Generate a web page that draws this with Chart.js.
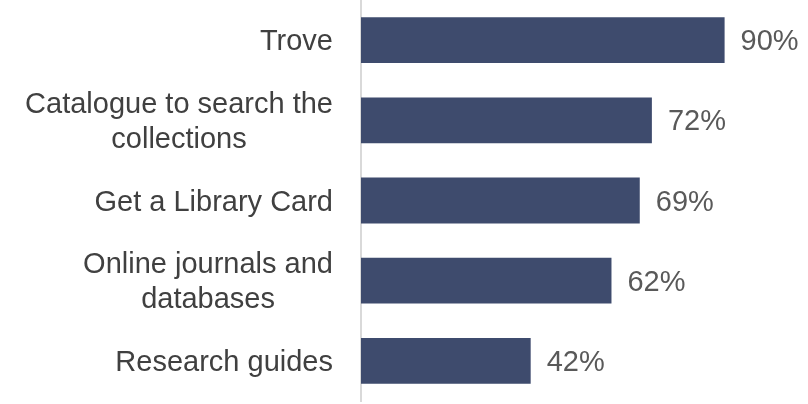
<!DOCTYPE html>
<html>
<head>
<meta charset="utf-8">
<script src="https://cdn.jsdelivr.net/npm/chart.js@4/dist/chart.umd.min.js"></script>
<style>
  html, body { margin: 0; padding: 0; background: #ffffff; }
  #wrap { width: 808px; height: 404px; }
</style>
</head>
<body>
<div id="wrap"><canvas id="chart" width="808" height="404"></canvas></div>
<script>
// 類別與數值
const categories = [
    ['Trove'],
    ['Catalogue to search the', 'collections'],
    ['Get a Library Card'],
    ['Online journals and', 'databases'],
    ['Research guides']
];
const percentValues = [90, 72, 69, 62, 42];

const FONT = '"Liberation Sans", Arial, sans-serif';

// 左側類別標籤：多行時各行置中，最寬一行靠右對齊
const categoryLabelPlugin = {
    id: 'categoryLabels',
    afterDraw(chart) {
        const ctx = chart.ctx;
        const yScale = chart.scales.y;
        const rightEdge = yScale.right - 28;
        const lineHeight = 35;
        ctx.save();
        ctx.font = '29px ' + FONT;
        ctx.fillStyle = '#404040';
        ctx.textAlign = 'center';
        ctx.textBaseline = 'middle';
        categories.forEach((lines, i) => {
            const y = yScale.getPixelForTick(i) + 2;
            const widest = Math.max(...lines.map(l => ctx.measureText(l).width));
            const cx = rightEdge - widest / 2;
            const startY = y - (lines.length - 1) * lineHeight / 2;
            lines.forEach((line, j) => {
                ctx.fillText(line, cx, startY + j * lineHeight);
            });
        });
        ctx.restore();
    }
};

// 長條右側的百分比標籤
const valueLabelPlugin = {
    id: 'valueLabels',
    afterDatasetsDraw(chart) {
        const ctx = chart.ctx;
        const meta = chart.getDatasetMeta(0);
        ctx.save();
        ctx.font = '29px ' + FONT;
        ctx.fillStyle = '#595959';
        ctx.textAlign = 'left';
        ctx.textBaseline = 'middle';
        meta.data.forEach((bar, i) => {
            ctx.fillText(percentValues[i] + '%', bar.x + 16, bar.y + 2);
        });
        ctx.restore();
    }
};

new Chart(document.getElementById('chart'), {
    type: 'bar',
    data: {
        labels: categories,
        datasets: [{
            data: percentValues,
            backgroundColor: '#3e4b6d',
            borderWidth: 0,
            categoryPercentage: 0.571,
            barPercentage: 1
        }]
    },
    options: {
        indexAxis: 'y',
        responsive: false,
        animation: false,
        layout: { padding: { top: -4, bottom: 3, right: 43, left: 0 } },
        scales: {
            x: {
                display: false,
                min: 0,
                max: 100
            },
            y: {
                grid: { display: false },
                ticks: { display: false },
                border: { display: true, color: '#d9d9d9', width: 2 },
                afterFit(scale) { scale.width = 361; }
            }
        },
        plugins: {
            legend: { display: false },
            tooltip: { enabled: false }
        }
    },
    plugins: [categoryLabelPlugin, valueLabelPlugin]
});
</script>
</body>
</html>
